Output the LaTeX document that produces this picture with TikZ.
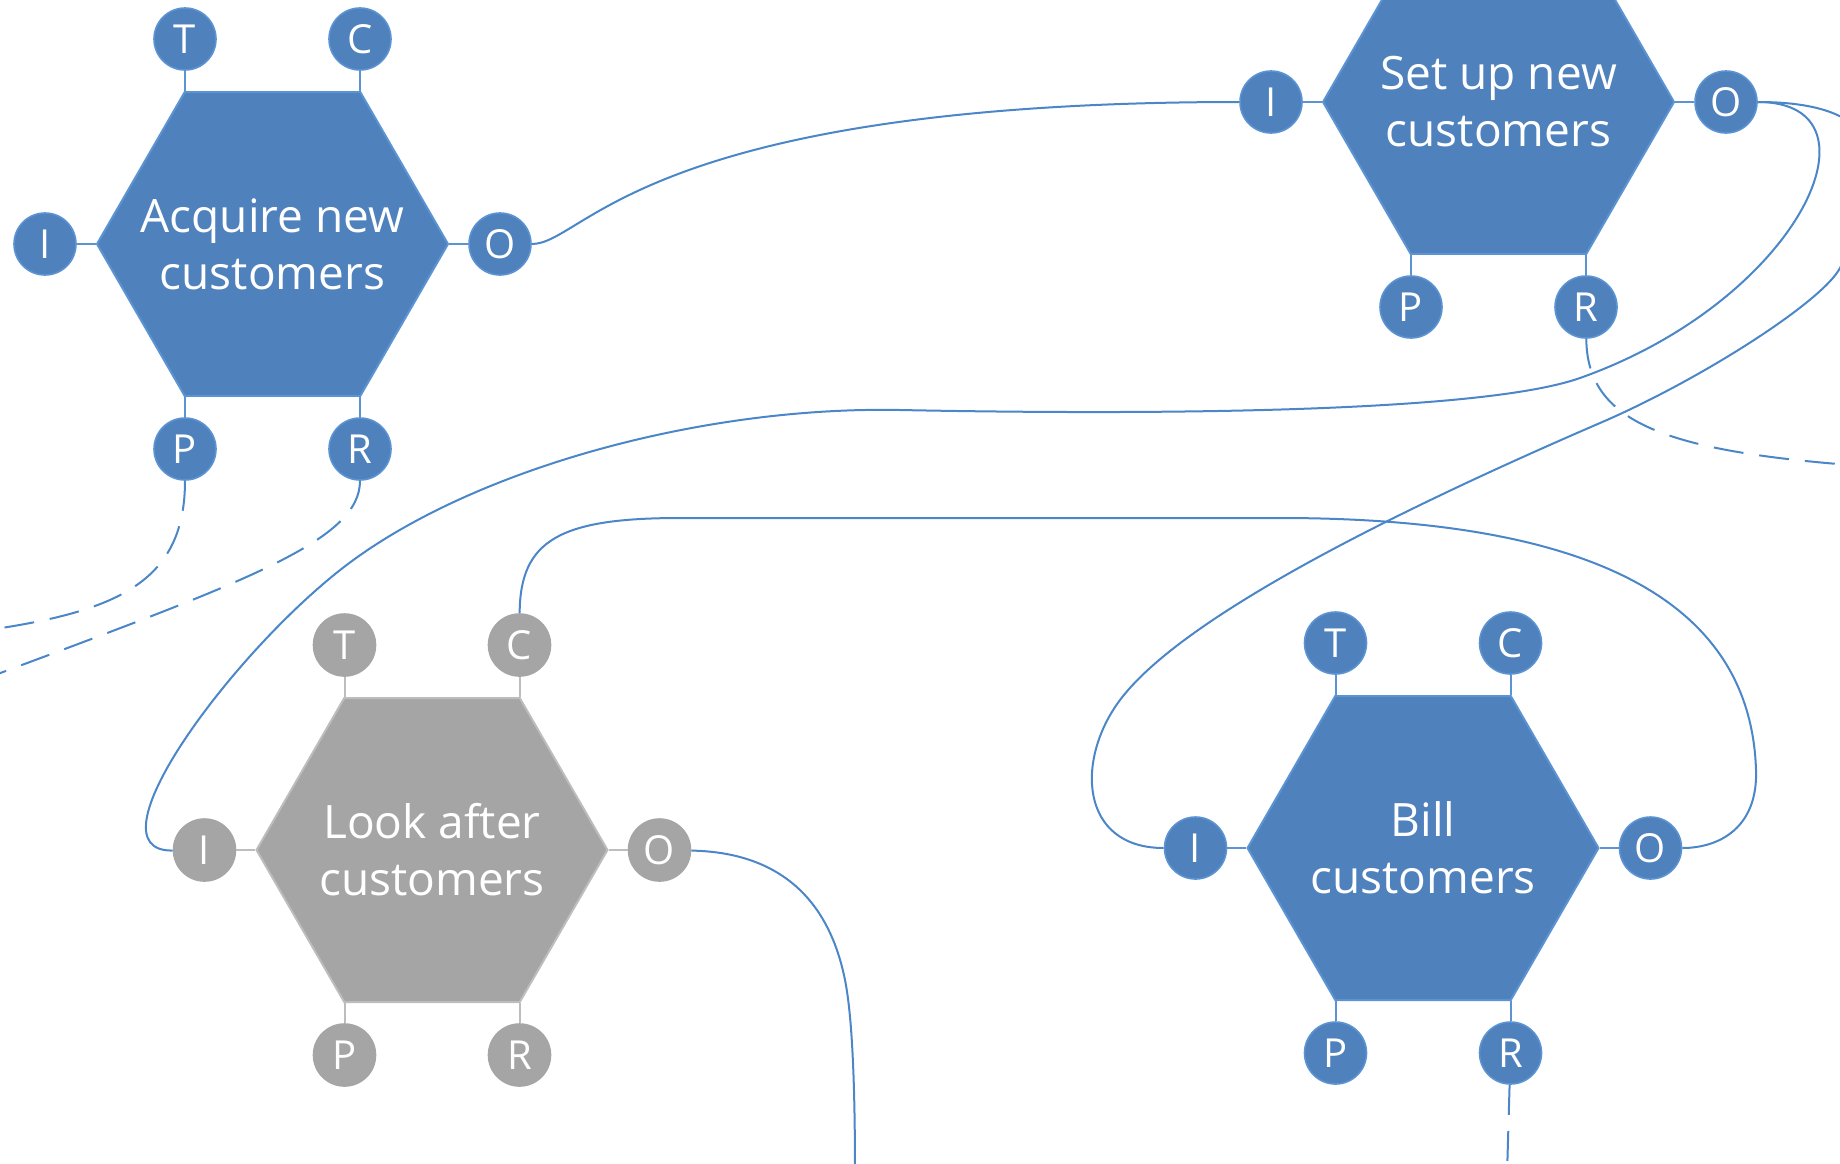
\documentclass[tikz,border=0pt]{standalone}
\usepackage{fontspec}
\setmainfont{Open Sans}
\usetikzlibrary{shapes.geometric}
\definecolor{procblue}{HTML}{4F81BD}
\definecolor{procedge}{HTML}{5B93D3}
\definecolor{procgrey}{HTML}{A5A5A5}
\definecolor{greyedge}{HTML}{BDBDBD}
\definecolor{linkblue}{HTML}{4A86C8}

\begin{document}
\begin{tikzpicture}[x=0.5pt, y=-0.5pt,
        hexa/.style={regular polygon, regular polygon sides=6, minimum size=175.5pt, inner sep=0pt,
            fill=procblue, draw=procedge, line width=1pt},
        hextext/.style={text=white, align=center, inner sep=0pt, font=\fontsize{23}{28.5}\selectfont},
        port/.style={circle, minimum size=31pt, inner sep=0pt, fill=procblue, draw=procedge,
            line width=0.8pt, text=white, font=\fontsize{20}{24}\selectfont},
        stub/.style={draw=procedge, line width=1pt},
        greyhexa/.style={hexa, fill=procgrey, draw=greyedge},
        greyport/.style={port, fill=procgrey, draw=procgrey},
        greystub/.style={stub, draw=greyedge},
        link/.style={draw=linkblue, line width=1pt},
        dashlink/.style={link, dash pattern=on 15pt off 8pt}]
        \useasboundingbox (0,0) rectangle (1840,1163);
        \clip (0,0) rectangle (1840,1163);

        \node[hexa, label={[hextext]center:Acquire new\\customers}] (acq) at (272.5,244) {};
        \node[port] (acqT) at (185,39) {T};
        \node[port] (acqC) at (360,39) {C};
        \node[port] (acqI) at (45,244) {I};
        \node[port] (acqO) at (500,244) {O};
        \node[port] (acqP) at (185,449) {P};
        \node[port] (acqR) at (360,449) {R};
        \draw[stub] (acqT) -- (acqT |- acq.north);
        \draw[stub] (acqC) -- (acqC |- acq.north);
        \draw[stub] (acqI) -- (acq.west);
        \draw[stub] (acqO) -- (acq.east);
        \draw[stub] (acqP) -- (acqP |- acq.south);
        \draw[stub] (acqR) -- (acqR |- acq.south);

        \node[hexa, label={[hextext]center:Set up new\\customers}] (setup) at (1498.5,102) {};
        \node[port] (setI) at (1271,102) {I};
        \node[port] (setO) at (1726,102) {O};
        \node[port] (setP) at (1411,307) {P};
        \node[port] (setR) at (1586,307) {R};
        \draw[stub] (setI) -- (setup.west);
        \draw[stub] (setO) -- (setup.east);
        \draw[stub] (setP) -- (setP |- setup.south);
        \draw[stub] (setR) -- (setR |- setup.south);

        \node[greyhexa, label={[hextext]center:Look after\\customers}] (look) at (432,850) {};
        \node[greyport] (lookT) at (344.5,645) {T};
        \node[greyport] (lookC) at (519.5,645) {C};
        \node[greyport] (lookI) at (204.5,850) {I};
        \node[greyport] (lookO) at (659.5,850) {O};
        \node[greyport] (lookP) at (344.5,1055) {P};
        \node[greyport] (lookR) at (519.5,1055) {R};
        \draw[greystub] (lookT) -- (lookT |- look.north);
        \draw[greystub] (lookC) -- (lookC |- look.north);
        \draw[greystub] (lookI) -- (look.west);
        \draw[greystub] (lookO) -- (look.east);
        \draw[greystub] (lookP) -- (lookP |- look.south);
        \draw[greystub] (lookR) -- (lookR |- look.south);

        \node[hexa, label={[hextext]center:Bill\\customers}] (bill) at (1423,848) {};
        \node[port] (billT) at (1335.5,643) {T};
        \node[port] (billC) at (1510.5,643) {C};
        \node[port] (billI) at (1195.5,848) {I};
        \node[port] (billO) at (1650.5,848) {O};
        \node[port] (billP) at (1335.5,1053) {P};
        \node[port] (billR) at (1510.5,1053) {R};
        \draw[stub] (billT) -- (billT |- bill.north);
        \draw[stub] (billC) -- (billC |- bill.north);
        \draw[stub] (billI) -- (bill.west);
        \draw[stub] (billO) -- (bill.east);
        \draw[stub] (billP) -- (billP |- bill.south);
        \draw[stub] (billR) -- (billR |- bill.south);

        \coordinate (lookOut) at (855,1175);
        \coordinate (acqPOut) at (-5,629);
        \coordinate (acqROut) at (-5,675);
        \coordinate (setROut) at (1850,465);
        \coordinate (billROut) at (1507,1175);

        \draw[link] (acqO) .. controls (585,244) and (640,102) .. (setI);
        \draw[link] (setO) .. controls (1890,102) and (1800,300) .. (1580,378)
            .. controls (1481,413) and (1150,415) .. (900,410)
            .. controls (700,406) and (470,470) .. (344,567)
            .. controls (231,654) and (85,852) .. (lookI);
        \draw[link] (setO) .. controls (1920,102) and (1875,200) .. (1840,268)
            .. controls (1822,302) and (1700,380) .. (1600,423)
            .. controls (1380,518) and (1180,620) .. (1120,700)
            .. controls (1075,760) and (1080,848) .. (billI);
        \draw[link] (lookC) .. controls (520,540) and (560,518) .. (680,518) -- (1280,518)
            .. controls (1550,518) and (1750,580) .. (1756,770)
            .. controls (1758,827) and (1720,848) .. (billO);
        \draw[link] (lookO) .. controls (770,852) and (827,890) .. (845,980)
            .. controls (852,1015) and (855,1080) .. (lookOut);

        \draw[dashlink] (acqP) .. controls (185,580) and (120,610) .. (acqPOut);
        \draw[dashlink] (acqR) .. controls (360,540) and (250,580) .. (acqROut);
        \draw[dashlink] (setR) .. controls (1587,420) and (1660,450) .. (setROut);
        \draw[dashlink] (billR) -- (billROut);
    \end{tikzpicture}
\end{document}
